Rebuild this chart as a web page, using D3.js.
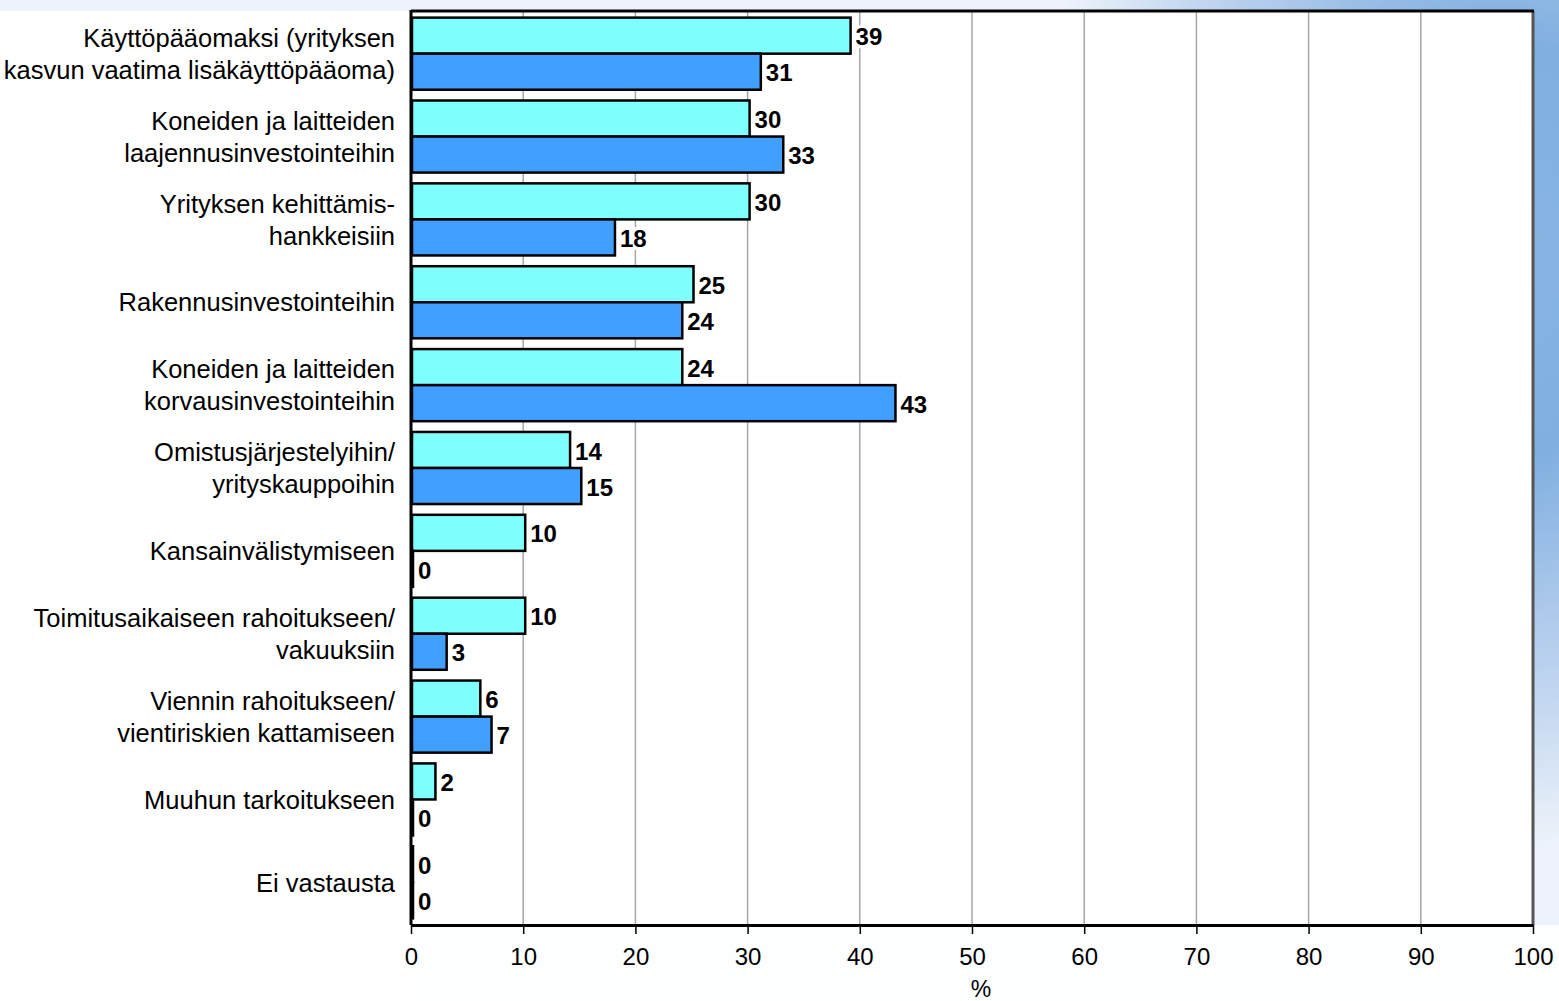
<!DOCTYPE html>
<html>
<head>
<meta charset="utf-8">
<script src="https://cdn.jsdelivr.net/npm/d3@7"></script>
<style>
  body { margin: 0; background: #fff; }
  svg { display: block; font-family: "Liberation Sans", Arial, sans-serif; }
</style>
</head>
<body>
<div id="chart"></div>
<script>
// categories (two-line labels split by \n)
var categories = [
  "Käyttöpääomaksi (yrityksen\nkasvun vaatima lisäkäyttöpääoma)",
  "Koneiden ja laitteiden\nlaajennusinvestointeihin",
  "Yrityksen kehittämis-\nhankkeisiin",
  "Rakennusinvestointeihin",
  "Koneiden ja laitteiden\nkorvausinvestointeihin",
  "Omistusjärjestelyihin/\nyrityskauppoihin",
  "Kansainvälistymiseen",
  "Toimitusaikaiseen rahoitukseen/\nvakuuksiin",
  "Viennin rahoitukseen/\nvientiriskien kattamiseen",
  "Muuhun tarkoitukseen",
  "Ei vastausta"
];
var seriesA = [39, 30, 30, 25, 24, 14, 10, 10, 6, 2, 0];   // cyan
var seriesB = [31, 33, 18, 24, 43, 15, 0, 3, 7, 0, 0];     // blue
var tickValues = [0, 10, 20, 30, 40, 50, 60, 70, 80, 90, 100];

var width = 1559, height = 1001;
// note: "top" is a reserved window prop, so use plotTop etc
var plotLeft = 411, plotRight = 1533, plotTop = 11, plotBottom = 925;

var svg = d3.select('#chart').append('svg')
  .attr('width', width)
  .attr('height', height);

// background gradient (blue glow along top-right and right edge)
var defs = svg.append('defs');
var grad = defs.append('radialGradient')
  .attr('id', 'bg')
  .attr('gradientUnits', 'userSpaceOnUse')
  .attr('cx', 1500).attr('cy', 250).attr('r', 600)
  .attr('gradientTransform', 'translate(1500,0) scale(0.8,1) translate(-1500,0)');
grad.append('stop').attr('offset', '0').attr('stop-color', '#88b5e2');
grad.append('stop').attr('offset', '0.35').attr('stop-color', '#80afe0');
grad.append('stop').attr('offset', '0.58').attr('stop-color', '#a8c6ea');
grad.append('stop').attr('offset', '0.75').attr('stop-color', '#c2d6f0');
grad.append('stop').attr('offset', '0.92').attr('stop-color', '#e0eaf7');
grad.append('stop').attr('offset', '1').attr('stop-color', '#eef3fb');

svg.append('rect')
  .attr('width', width).attr('height', height)
  .style('fill', 'url(#bg)');
// left part and bottom are plain white
svg.append('rect')
  .attr('x', 0).attr('y', plotTop).attr('width', plotLeft).attr('height', height - plotTop)
  .style('fill', '#fff');
svg.append('rect')
  .attr('x', 0).attr('y', plotBottom).attr('width', width).attr('height', height - plotBottom)
  .style('fill', '#fff')
  .style('opacity', 0.85);

// scales
var xScale = d3.scaleLinear().domain([0, 100]).range([plotLeft, plotRight]);
var yScale = d3.scaleBand()
  .domain(d3.range(categories.length))
  .range([plotTop, plotBottom])
  .paddingInner(0.13)
  .paddingOuter(0.08);
var sub = d3.scaleBand().domain([0, 1]).range([0, yScale.bandwidth()]);

// plot area
svg.append('rect')
  .attr('x', plotLeft).attr('y', plotTop)
  .attr('width', plotRight - plotLeft).attr('height', plotBottom - plotTop)
  .style('fill', '#fff');

// gridlines
svg.selectAll('line.grid').data(tickValues.slice(1, -1))
  .enter().append('line')
  .attr('class', 'grid')
  .attr('x1', function (d) { return xScale(d); })
  .attr('x2', function (d) { return xScale(d); })
  .attr('y1', plotTop).attr('y2', plotBottom)
  .style('stroke', '#a6a6a6')
  .style('stroke-width', 1.5);

// right and top borders
svg.append('line')
  .attr('x1', plotRight).attr('x2', plotRight).attr('y1', plotTop).attr('y2', plotBottom)
  .style('stroke', '#555').style('stroke-width', 3);
svg.append('line')
  .attr('x1', plotLeft).attr('x2', plotRight + 1).attr('y1', plotTop).attr('y2', plotTop)
  .style('stroke', '#000').style('stroke-width', 3);

// bars
var series = [
  { values: seriesA, color: '#80ffff' },
  { values: seriesB, color: '#409fff' }
];

var labelLayer = [];
series.forEach(function (s, si) {
  svg.selectAll('rect.s' + si).data(s.values)
    .enter().append('rect')
    .attr('class', 's' + si)
    .attr('x', xScale(0) + 1)
    .attr('y', function (d, i) { return yScale(i) + sub(si); })
    .attr('width', function (d) { return Math.max(xScale(d) - xScale(0) + 1, 1); })
    .attr('height', sub.bandwidth())
    .style('fill', s.color)
    .style('stroke', '#000')
    .style('stroke-width', 2.5);
  s.values.forEach(function (d, i) {
    labelLayer.push({ v: d, x: xScale(d) + 5, y: yScale(i) + sub(si) + sub.bandwidth() / 2 });
  });
});

// value labels with white boxes
var lab = svg.selectAll('g.val').data(labelLayer)
  .enter().append('g').attr('class', 'val');
lab.append('rect').style('fill', '#fff');
lab.append('text')
  .attr('x', function (d) { return d.x + 2; })
  .attr('y', function (d) { return d.y + 1; })
  .attr('dy', '0.36em')
  .style('font-size', '24px')
  .style('font-weight', 'bold')
  .text(function (d) { return d.v; });
lab.each(function () {
  var g = d3.select(this);
  var bb = g.select('text').node().getBBox();
  g.select('rect')
    .attr('x', bb.x - 1).attr('y', bb.y + 2)
    .attr('width', bb.width + 2).attr('height', bb.height - 4);
});

// category labels
var cat = svg.selectAll('text.cat').data(categories)
  .enter().append('text')
  .attr('class', 'cat')
  .attr('text-anchor', 'end')
  .style('font-size', '25.5px')
  .style('fill', '#000');
cat.each(function (d, i) {
  var lines = d.split('\n');
  var cy = yScale(i) + yScale.bandwidth() / 2;
  var t = d3.select(this);
  lines.forEach(function (ln, k) {
    t.append('tspan')
      .attr('x', 395)
      .attr('y', cy + (k - (lines.length - 1) / 2) * 32)
      .attr('dy', '0.36em')
      .text(ln);
  });
});

// left axis line
svg.append('line')
  .attr('x1', plotLeft).attr('x2', plotLeft).attr('y1', plotTop - 1).attr('y2', plotBottom)
  .style('stroke', '#000').style('stroke-width', 3);

// x axis
var xAxis = d3.axisBottom(xScale)
  .tickValues(tickValues)
  .tickSize(9)
  .tickPadding(14)
  .tickSizeOuter(0)
  .tickFormat(d3.format('d'));
var gx = svg.append('g')
  .attr('transform', 'translate(0,' + plotBottom + ')')
  .call(xAxis);
gx.select('.domain').style('stroke', '#000').style('stroke-width', 3);
gx.selectAll('.tick line').style('stroke', '#000').style('stroke-width', 1.5);
gx.selectAll('.tick text')
  .style('font-size', '24px')
  .style('font-family', '"Liberation Sans", Arial, sans-serif')
  .style('fill', '#000');

svg.append('text')
  .attr('x', (plotLeft + plotRight) / 2 + 9)
  .attr('y', 997)
  .attr('text-anchor', 'middle')
  .style('font-size', '23px')
  .text('%');
</script>
</body>
</html>
